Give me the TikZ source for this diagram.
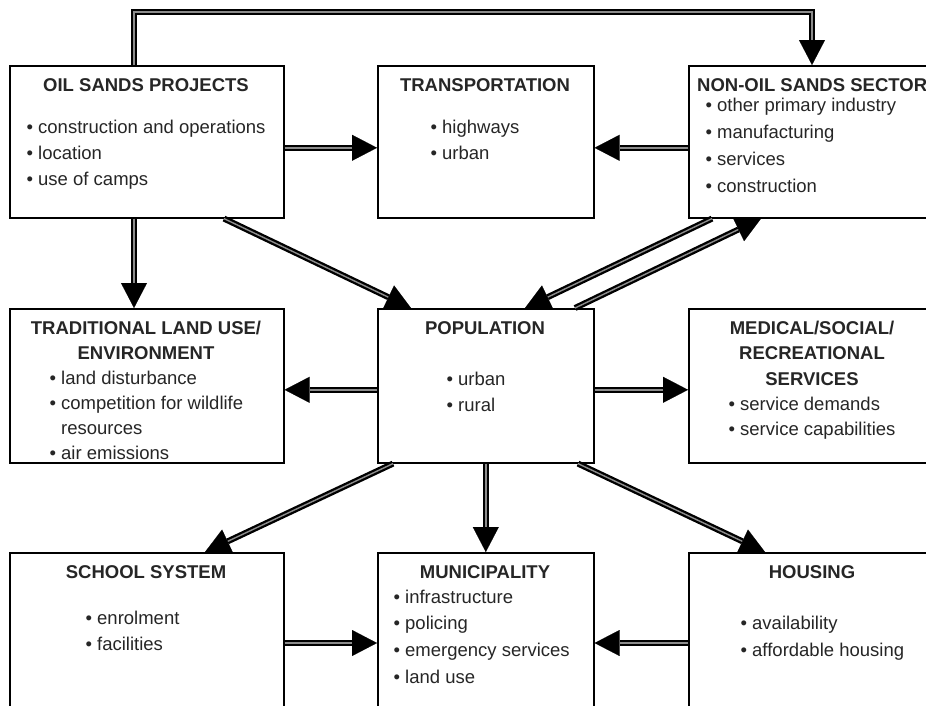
\documentclass[tikz,border=0pt]{standalone}
\usepackage{fontspec}
\setmainfont{Liberation Sans}
\usetikzlibrary{arrows.meta}
\begin{document}
\begin{tikzpicture}[x=1pt,y=-1pt,
  box/.style={draw, line width=1.6pt, fill=white, rectangle, inner sep=0pt, anchor=north west},
  ttl/.style={font=\bfseries\fontsize{18.5}{24}\selectfont, anchor=base, inner sep=0pt, text=black!85},
  itm/.style={font=\fontsize{18.5}{24}\selectfont, anchor=base west, inner sep=0pt, text=black!85},
  conn/.style={line width=2.3pt, double=black!45, double distance=1.4pt, line join=miter,
    -{Triangle[length=25pt,width=26pt,line width=0.1pt]}},
]
\useasboundingbox (0,0) rectangle (926,705);
\clip (0,0) rectangle (926,705);

% boxes
\node[box, minimum width=274pt, minimum height=152pt] (oil) at (9,65) {};
\node[box, minimum width=216pt, minimum height=152pt] (trans) at (377,65) {};
\node[box, minimum width=248pt, minimum height=152pt] (non) at (688,65) {};
\node[box, minimum width=274pt, minimum height=154pt] (trad) at (9,308) {};
\node[box, minimum width=216pt, minimum height=154pt] (pop) at (377,308) {};
\node[box, minimum width=248pt, minimum height=154pt] (med) at (688,308) {};
\node[box, minimum width=274pt, minimum height=154pt] (school) at (9,552) {};
\node[box, minimum width=216pt, minimum height=154pt] (muni) at (377,552) {};
\node[box, minimum width=248pt, minimum height=154pt] (house) at (688,552) {};

% texts row 1
\node[ttl] (oilT) at (146,91) {OIL SANDS PROJECTS};
\node[itm] (oil1) at (26.4,133) {• construction and operations};
\node[itm] (oil2) at (26.4,159) {• location};
\node[itm] (oil3) at (26.4,185) {• use of camps};

\node[ttl] (transT) at (485,91) {TRANSPORTATION};
\node[itm] (trans1) at (430.4,133) {• highways};
\node[itm] (trans2) at (430.4,159) {• urban};

\node[ttl, anchor=base west] (nonT) at (697,91) {NON-OIL SANDS SECTOR};
\node[itm] (non1) at (705.4,111) {• other primary industry};
\node[itm] (non2) at (705.4,138) {• manufacturing};
\node[itm] (non3) at (705.4,165) {• services};
\node[itm] (non4) at (705.4,192) {• construction};

% texts row 2
\node[ttl] (tradT1) at (146,334) {TRADITIONAL LAND USE/};
\node[ttl] (tradT2) at (146,359) {ENVIRONMENT};
\node[itm] (trad1) at (49.4,384) {• land disturbance};
\node[itm] (trad2) at (49.4,409) {• competition for wildlife};
\node[itm] (trad3) at (61,434) {resources};
\node[itm] (trad4) at (49.4,459) {• air emissions};

\node[ttl] (popT) at (485,334) {POPULATION};
\node[itm] (pop1) at (446.4,385) {• urban};
\node[itm] (pop2) at (446.4,411) {• rural};

\node[ttl] (medT1) at (812,334) {MEDICAL/SOCIAL/};
\node[ttl] (medT2) at (812,359) {RECREATIONAL};
\node[ttl] (medT3) at (812,385) {SERVICES};
\node[itm] (med1) at (728.4,410) {• service demands};
\node[itm] (med2) at (728.4,435) {• service capabilities};

% texts row 3
\node[ttl] (schoolT) at (146,578) {SCHOOL SYSTEM};
\node[itm] (school1) at (85.4,624) {• enrolment};
\node[itm] (school2) at (85.4,650) {• facilities};

\node[ttl] (muniT) at (485,578) {MUNICIPALITY};
\node[itm] (muni1) at (393.4,603) {• infrastructure};
\node[itm] (muni2) at (393.4,629) {• policing};
\node[itm] (muni3) at (393.4,656) {• emergency services};
\node[itm] (muni4) at (393.4,683) {• land use};

\node[ttl] (houseT) at (812,578) {HOUSING};
\node[itm] (house1) at (740.4,629) {• availability};
\node[itm] (house2) at (740.4,656) {• affordable housing};

% connectors
\draw[conn] ([xshift=125pt]oil.north west) -- ++(0,-53) -| ([xshift=124pt]non.north west);
\draw[conn] ([yshift=-6pt]oil.east) -- ([yshift=-6pt]trans.west);
\draw[conn] ([yshift=-6pt]non.west) -- ([yshift=-6pt]trans.east);
\draw[conn] ([xshift=125pt]oil.south west) -- ([xshift=125pt]trad.north west);
\draw[conn] ([xshift=215pt]oil.south west) -- ([xshift=34pt]pop.north west);
\draw[conn] ([xshift=24pt]non.south west) -- ([xshift=148pt]pop.north west);
\draw[conn] ([xshift=198pt]pop.north west) -- ([xshift=73pt]non.south west);
\draw[conn] ([yshift=-4pt]pop.west) -- ([yshift=-4pt]trad.east);
\draw[conn] ([yshift=-4pt]pop.east) -- ([yshift=-4pt]med.west);
\draw[conn] ([xshift=16pt]pop.south west) -- ([xshift=196pt]school.north west);
\draw[conn] (pop.south) -- (muni.north);
\draw[conn] ([xshift=201pt]pop.south west) -- ([xshift=77pt]house.north west);
\draw[conn] ([yshift=-91pt]school.north east) -- ([yshift=-91pt]muni.north west);
\draw[conn] ([yshift=-91pt]house.north west) -- ([yshift=-91pt]muni.north east);
\end{tikzpicture}
\end{document}
